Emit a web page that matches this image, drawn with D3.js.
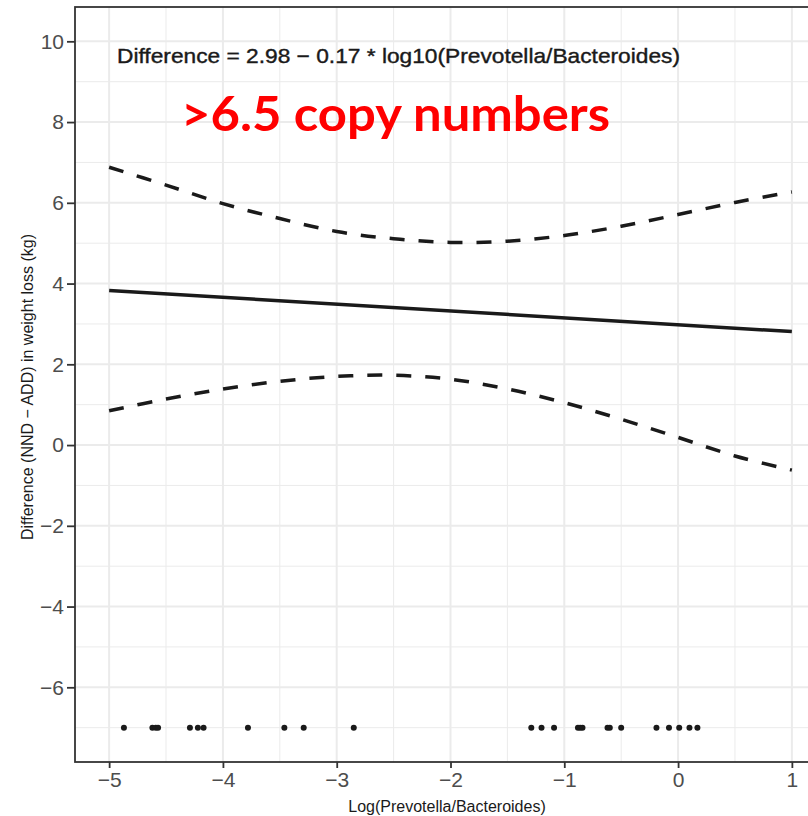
<!DOCTYPE html>
<html>
<head>
<meta charset="utf-8">
<script src="https://cdn.jsdelivr.net/npm/d3@7"></script>
<style>
  body { margin: 0; background: #fff; }
  svg { display: block; }
</style>
</head>
<body>
<script>
// Chart values
let xTicks = [-5, -4, -3, -2, -1, 0, 1];
let yTicks = [-6, -4, -2, 0, 2, 4, 6, 8, 10];

// fitted regression line (end points)
let fitX = [-5, 1];
let fitY = [3.83, 2.81];

// confidence band (dashed)
let bandX = [-5, -4.5, -4, -3.5, -3, -2.5, -2, -1.5, -1, -0.5, 0, 0.5, 1];
let bandUpper = [6.88, 6.44, 5.98, 5.61, 5.29, 5.11, 5.02, 5.05, 5.19, 5.42, 5.71, 6.01, 6.27];
let bandLower = [0.85, 1.14, 1.39, 1.58, 1.70, 1.73, 1.63, 1.39, 1.05, 0.64, 0.19, -0.27, -0.62];

// rug-like points at the bottom
let pointX = [-4.87, -4.62, -4.59, -4.57, -4.29, -4.22, -4.17, -3.78, -3.46, -3.29, -2.85,
              -1.29, -1.20, -1.09, -0.88, -0.86, -0.84, -0.62, -0.60, -0.50, -0.19, -0.08, 0.01, 0.10, 0.17];
let pointY = [-7, -7, -7, -7, -7, -7, -7, -7, -7, -7, -7,
              -7, -7, -7, -7, -7, -7, -7, -7, -7, -7, -7, -7, -7, -7];

let equationLabel = "Difference = 2.98 \u2212 0.17 * log10(Prevotella/Bacteroides)";
let redLabel = ">6.5 copy numbers";
let xTitle = "Log(Prevotella/Bacteroides)";
let yTitle = "Difference (NND \u2212 ADD) in weight loss (kg)";

// SVG area
let svgWidth = 808;
let svgHeight = 816;

// panel edges (right edge runs past the picture, as in the reference)
let panel = { left: 75, top: 7, right: 826, bottom: 762 };

let svg = d3.select("body")
  .append("svg")
  .attr("width", svgWidth)
  .attr("height", svgHeight);

let xScale = d3.scaleLinear().domain([-5.3, 1.3]).range([panel.left, panel.right]);
let yScale = d3.scaleLinear().domain([-7.85, 10.85]).range([panel.bottom, panel.top]);

// grid lines
let grid = svg.append("g");
let xMinor = d3.range(-5, 1, 1).map(d => d + 0.5);
let yMinor = [-7, -5, -3, -1, 1, 3, 5, 7, 9];

grid.selectAll(".vminor").data(xMinor).enter().append("line")
  .attr("x1", d => xScale(d)).attr("x2", d => xScale(d))
  .attr("y1", panel.top).attr("y2", panel.bottom)
  .attr("stroke", "#ebebeb").attr("stroke-width", 1);
grid.selectAll(".hminor").data(yMinor).enter().append("line")
  .attr("x1", panel.left).attr("x2", panel.right)
  .attr("y1", d => yScale(d)).attr("y2", d => yScale(d))
  .attr("stroke", "#ebebeb").attr("stroke-width", 1);
grid.selectAll(".vmajor").data(xTicks).enter().append("line")
  .attr("x1", d => xScale(d)).attr("x2", d => xScale(d))
  .attr("y1", panel.top).attr("y2", panel.bottom)
  .attr("stroke", "#ebebeb").attr("stroke-width", 2);
grid.selectAll(".hmajor").data(yTicks).enter().append("line")
  .attr("x1", panel.left).attr("x2", panel.right)
  .attr("y1", d => yScale(d)).attr("y2", d => yScale(d))
  .attr("stroke", "#ebebeb").attr("stroke-width", 2);

// confidence band
let bandLine = d3.line().curve(d3.curveCatmullRom)
  .x(d => xScale(d[0])).y(d => yScale(d[1]));

[bandUpper, bandLower].forEach(vals => {
  svg.append("path")
    .datum(bandX.map((x, i) => [x, vals[i]]))
    .attr("d", bandLine)
    .attr("fill", "none")
    .attr("stroke", "#1a1a1a")
    .attr("stroke-width", 3.5)
    .attr("stroke-dasharray", "15,14");
});

// fitted line
svg.append("path")
  .datum(fitX.map((x, i) => [x, fitY[i]]))
  .attr("d", d3.line().x(d => xScale(d[0])).y(d => yScale(d[1])))
  .attr("fill", "none")
  .attr("stroke", "#1a1a1a")
  .attr("stroke-width", 3.5);

// points
svg.selectAll(".pt").data(pointX).enter().append("circle")
  .attr("cx", d => xScale(d))
  .attr("cy", (d, i) => yScale(pointY[i]))
  .attr("r", 3)
  .attr("fill", "#1a1a1a");

// panel border
svg.append("rect")
  .attr("x", panel.left).attr("y", panel.top)
  .attr("width", panel.right - panel.left)
  .attr("height", panel.bottom - panel.top)
  .attr("fill", "none")
  .attr("stroke", "#333")
  .attr("stroke-width", 1.8);

// axes
let tickFmt = d3.format("d");
let xAxis = svg.append("g")
  .attr("transform", `translate(0, ${panel.bottom})`)
  .call(d3.axisBottom(xScale).tickValues(xTicks).tickFormat(tickFmt).tickSize(6).tickPadding(4));
let yAxis = svg.append("g")
  .attr("transform", `translate(${panel.left}, 0)`)
  .call(d3.axisLeft(yScale).tickValues(yTicks).tickFormat(tickFmt).tickSize(8).tickPadding(3));

[xAxis, yAxis].forEach(ax => {
  ax.select(".domain").remove();
  ax.selectAll(".tick line").attr("stroke", "#333").attr("stroke-width", 1.8);
  ax.selectAll(".tick text")
    .attr("fill", "#4d4d4d")
    .style("font-family", "'Liberation Sans', Arial, sans-serif")
    .style("font-size", "21px");
});

// axis titles
svg.append("text")
  .attr("x", 447)
  .attr("y", 812)
  .attr("text-anchor", "middle")
  .style("font-family", "'Liberation Sans', Arial, sans-serif")
  .style("font-size", "16px")
  .attr("fill", "#1a1a1a")
  .text(xTitle);

svg.append("text")
  .attr("transform", "translate(33, 387) rotate(-90)")
  .attr("text-anchor", "middle")
  .style("font-family", "'Liberation Sans', Arial, sans-serif")
  .style("font-size", "16px")
  .attr("fill", "#1a1a1a")
  .text(yTitle);

// annotations
svg.append("text")
  .attr("x", 117)
  .attr("y", 63)
  .attr("textLength", 563)
  .attr("lengthAdjust", "spacingAndGlyphs")
  .style("font-family", "'Liberation Sans', Arial, sans-serif")
  .style("font-size", "21px")
  .attr("fill", "#1a1a1a")
  .attr("stroke", "#1a1a1a")
  .attr("stroke-width", 0.4)
  .text(equationLabel);

svg.append("text")
  .attr("x", 181)
  .attr("y", 131)
  .attr("textLength", 429)
  .attr("lengthAdjust", "spacingAndGlyphs")
  .style("font-family", "Lato, 'Open Sans', sans-serif")
  .style("font-weight", "bold")
  .style("font-size", "47px")
  .attr("fill", "#ff0000")
  .text(redLabel);
</script>
</body>
</html>
